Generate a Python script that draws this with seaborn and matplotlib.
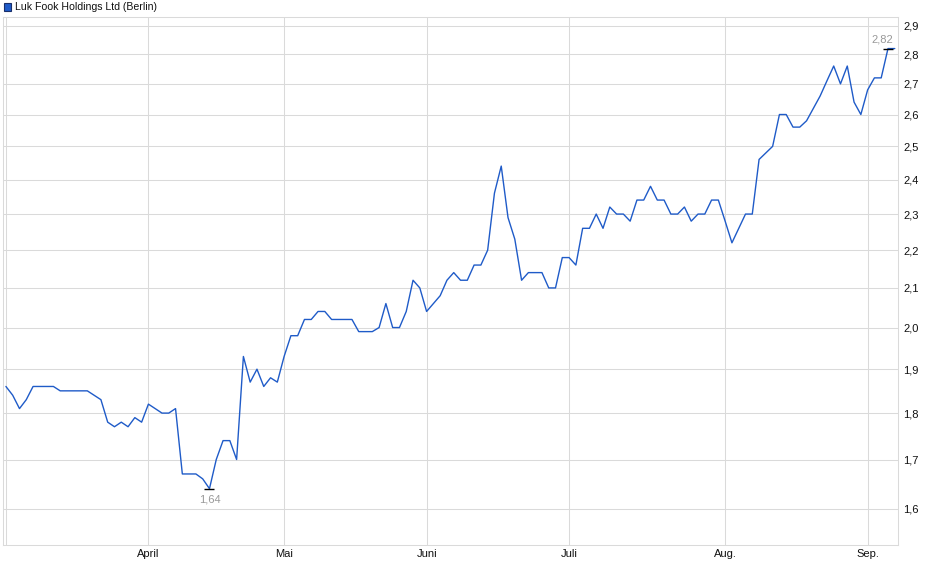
import matplotlib
matplotlib.use("Agg")
import matplotlib.pyplot as plt
import matplotlib.ticker as mticker
from matplotlib.patches import Rectangle
import numpy as np
import pandas as pd
import seaborn as sns

# daily closing prices (EUR)
prices = [1.86, 1.84, 1.81, 1.83, 1.86, 1.86, 1.86, 1.86, 1.85, 1.85, 1.85, 1.85, 1.85, 1.84, 1.83,
          1.78, 1.77, 1.78, 1.77, 1.79, 1.78, 1.82, 1.81, 1.80, 1.80, 1.81,
          1.67, 1.67, 1.67, 1.66, 1.64, 1.70, 1.74, 1.74, 1.70, 1.93, 1.87, 1.90, 1.86, 1.88, 1.87,
          1.93, 1.98, 1.98, 2.02, 2.02, 2.04, 2.04, 2.02, 2.02, 2.02, 2.02, 1.99, 1.99, 1.99, 2.00,
          2.06, 2.00, 2.00, 2.04,
          2.12, 2.10, 2.04, 2.06, 2.08, 2.12, 2.14, 2.12, 2.12, 2.16, 2.16, 2.20, 2.36, 2.44, 2.29,
          2.23, 2.12, 2.14, 2.14, 2.14,
          2.10, 2.10, 2.18, 2.18, 2.16, 2.26, 2.26, 2.30, 2.26, 2.32, 2.30, 2.30, 2.28, 2.34, 2.34,
          2.38, 2.34, 2.34, 2.30, 2.30,
          2.32, 2.28, 2.30, 2.30, 2.34, 2.34, 2.28, 2.22, 2.26, 2.30, 2.30, 2.46, 2.48, 2.50, 2.60,
          2.60, 2.56, 2.56, 2.58, 2.62,
          2.66, 2.71, 2.76, 2.70, 2.76, 2.64, 2.60, 2.68, 2.72, 2.72, 2.82, 2.82]

# first trading day of each month (index into prices)
month_pos = [0, 21, 41, 62, 83, 106, 127]
month_labels = ["", "April", "Mai", "Juni", "Juli", "Aug.", "Sep."]
y_ticks = [1.6, 1.7, 1.8, 1.9, 2.0, 2.1, 2.2, 2.3, 2.4, 2.5, 2.6, 2.7, 2.8, 2.9]
title = "Luk Fook Holdings Ltd (Berlin)"

df = pd.DataFrame({"day": np.arange(len(prices)), "price": prices})

sns.set_style("white")
plt.rcParams["font.family"] = ["Liberation Sans", "DejaVu Sans"]

W, H = 940, 579
fig = plt.figure(figsize=(W / 100, H / 100), dpi=100)
ax = fig.add_axes([3 / W, 34 / H, 895.3 / W, 527.7 / H])

line_color = "#1f5bc8"
grid_color = "#dadada"

sns.lineplot(data=df, x="day", y="price", color=line_color, linewidth=1.0, ax=ax)

ax.set_yscale("log")
ax.set_ylim(1.5301, 2.9307)
ax.set_xlim(-0.43, 131.52)

ax.yaxis.set_major_locator(mticker.FixedLocator(y_ticks))
ax.yaxis.set_minor_locator(mticker.NullLocator())
ax.yaxis.set_major_formatter(mticker.FuncFormatter(lambda v, p: f"{v:.1f}".replace(".", ",")))
ax.yaxis.tick_right()
ax.set_xticks(month_pos)
ax.set_xticklabels(month_labels)
ax.tick_params(axis="both", length=0, labelsize=8, colors="#111111")
ax.tick_params(axis="y", pad=3.6)
ax.tick_params(axis="x", pad=3)
ax.set_xlabel("")
ax.set_ylabel("")

ax.grid(True, color=grid_color, linewidth=0.75)
for sp in ax.spines.values():
    sp.set_color(grid_color)
    sp.set_linewidth(0.75)

# min / max markers
i_min = int(np.argmin(prices))
i_max = int(np.argmax(prices))
ax.plot([i_min, i_max], [prices[i_min], prices[i_max]], linestyle="none",
        marker="_", markersize=7, markeredgewidth=1.0, color="black", zorder=5)
ax.annotate(f"{prices[i_min]:.2f}".replace(".", ","), (i_min, prices[i_min]),
            xytext=(0, -8), textcoords="offset points", ha="center", va="center",
            fontsize=8, color="#999999")
ax.annotate(f"{prices[i_max]:.2f}".replace(".", ","), (i_max, prices[i_max]),
            xytext=(-4, 6.5), textcoords="offset points", ha="center", va="center",
            fontsize=8, color="#999999")

# legend box at top-left
fig.patches.append(Rectangle((4 / W, 1 - 11 / H), 7 / W, 8 / H, transform=fig.transFigure,
                             facecolor="#1f5bc8", edgecolor="#1a2f6a", linewidth=0.8))
fig.text(15 / W, 1 - 7 / H, title, ha="left", va="center", fontsize=7.6, color="#111111")

fig.savefig("out.png", dpi=100)
